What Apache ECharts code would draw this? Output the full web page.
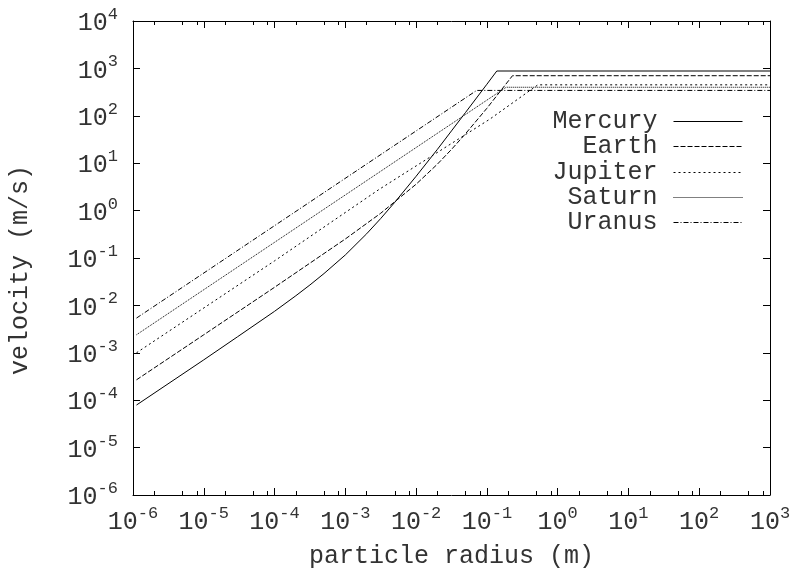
<!DOCTYPE html>
<html>
<head>
<meta charset="utf-8">
<script src="https://cdn.jsdelivr.net/npm/echarts@6/dist/echarts.min.js"></script>
<style>html,body{margin:0;padding:0;background:#fff}#c{width:796px;height:579px}</style>
</head>
<body>
<div id="c"></div>
<script>
// ---- data (radius in m, velocity in m/s) ----
const seriesNames = ['Mercury', 'Earth', 'Jupiter', 'Saturn', 'Uranus'];

const mercuryR = [1.12e-6, 1e-5, 3e-5, 1e-4, 2e-4, 3.16e-4, 5e-4, 1e-3, 2e-3, 3.16e-3, 5e-3, 1e-2, 2e-2, 3.16e-2, 5e-2, 0.1, 0.138, 1000];
const mercuryV = [7.9e-5, 7.1e-4, 2.18e-3, 7.5e-3, 0.016, 0.027, 0.047, 0.116, 0.324, 0.68, 1.5, 5.3, 19.6, 48, 118, 463, 881, 881];

const earthR = [1.12e-6, 1e-5, 1e-4, 1e-3, 3.16e-3, 1e-2, 2e-2, 3.16e-2, 5e-2, 0.1, 0.23, 1000];
const earthV = [2.69e-4, 2.4e-3, 0.0241, 0.252, 0.879, 3.6, 9.55, 19.5, 42, 144, 701, 701];

const jupiterR = [1.12e-6, 1e-4, 3e-3, 0.11, 0.525, 1000];
const jupiterV = [1.0e-3, 0.087, 2.8, 85, 450, 450];

const saturnR = [1.12e-6, 0.187, 1000];
const saturnV = [2.4e-3, 400, 400];

const uranusR = [1.12e-6, 0.0716, 1000];
const uranusV = [5.4e-3, 343, 343];

const xMajorTicks = [1e-6, 1e-5, 1e-4, 1e-3, 1e-2, 1e-1, 1e0, 1e1, 1e2, 1e3];
const xMinorMantissas = [2, 5, 8];
const yMajorTicks = [1e-6, 1e-5, 1e-4, 1e-3, 1e-2, 1e-1, 1e0, 1e1, 1e2, 1e3, 1e4];

const xTitle = 'particle radius (m)';
const yTitle = 'velocity (m/s)';

// ---- build ----
const FONT = 'Liberation Mono';
const TXT = '#333';
const pairs = (r, v) => r.map((x, i) => [x, v[i]]);
const seriesData = [pairs(mercuryR, mercuryV), pairs(earthR, earthV), pairs(jupiterR, jupiterV), pairs(saturnR, saturnV), pairs(uranusR, uranusV)];
const dashes = ['solid', [5, 2], [2, 3], [1, 1], [5, 2, 1, 2]];

const xMinorTicks = [];
for (let k = -6; k < 3; k++) xMinorMantissas.forEach(m => xMinorTicks.push(m * Math.pow(10, k)));

const rich = {
  b: { fontFamily: FONT, fontSize: 25, color: TXT, lineHeight: 30, verticalAlign: 'bottom' },
  s: { fontFamily: FONT, fontSize: 17, color: TXT, lineHeight: 15, verticalAlign: 'top' }
};
const powFmt = v => '{b|10}{s|' + Math.round(Math.log10(v)) + '}';

const lineCol = '#000';
function axisBase(extra) {
  return Object.assign({
    type: 'log', logBase: 10,
    splitLine: { show: false },
    axisLine: { show: true, lineStyle: { color: lineCol, width: 1 } },
    axisTick: { show: true, inside: true, length: 7, lineStyle: { color: lineCol } },
    axisLabel: { show: false }
  }, extra);
}

const xAxes = [
  axisBase({
    min: 1e-6, max: 1e3, position: 'bottom',
    axisTick: { show: true, inside: true, length: 7, customValues: xMajorTicks, lineStyle: { color: lineCol } },
    axisLabel: { show: true, customValues: xMajorTicks, margin: 10, formatter: powFmt, rich: rich },
    name: xTitle, nameLocation: 'middle', nameGap: 49,
    nameTextStyle: { fontFamily: FONT, fontSize: 25, color: TXT }
  }),
  axisBase({
    min: 1e-6, max: 1e3, position: 'bottom',
    axisLine: { show: false },
    axisTick: { show: true, inside: true, length: 4, customValues: xMinorTicks, lineStyle: { color: lineCol } }
  }),
  axisBase({
    min: 1e-6, max: 1e3, position: 'top',
    axisTick: { show: true, inside: true, length: 7, customValues: xMajorTicks, lineStyle: { color: lineCol } }
  }),
  axisBase({
    min: 1e-6, max: 1e3, position: 'top',
    axisLine: { show: false },
    axisTick: { show: true, inside: true, length: 4, customValues: xMinorTicks, lineStyle: { color: lineCol } }
  })
];
const yAxes = [
  axisBase({
    min: 1e-6, max: 1e4, position: 'left',
    axisTick: { show: true, inside: true, length: 7, customValues: yMajorTicks, lineStyle: { color: lineCol } },
    axisLabel: { show: true, customValues: yMajorTicks, margin: 15, formatter: powFmt, rich: rich },
    name: yTitle, nameLocation: 'middle', nameGap: 100, nameRotate: 90,
    nameTextStyle: { fontFamily: FONT, fontSize: 25, color: TXT, padding: [0, 24, 0, 0] }
  }),
  axisBase({
    min: 1e-6, max: 1e4, position: 'right',
    axisTick: { show: true, inside: true, length: 7, customValues: yMajorTicks, lineStyle: { color: lineCol } }
  })
];

const legendTops = [104, 129, 155, 180, 205];
const legends = seriesNames.map((n, i) => ({
  data: [n], orient: 'vertical', align: 'right', right: 48, top: legendTops[i],
  itemWidth: 69, itemHeight: 13, itemGap: 0,
  itemStyle: { opacity: 0, borderWidth: 0 },
  lineStyle: { width: 1, color: '#000' },
  textStyle: { fontFamily: FONT, fontSize: 25, color: TXT, lineHeight: 25, padding: [0, 11, 0, 0] }
}));

const chart = echarts.init(document.getElementById('c'), null, { renderer: 'canvas' });
chart.setOption({
  animation: false,
  backgroundColor: '#fff',
  grid: { left: 133, top: 21, right: 26, bottom: 84, containLabel: false },
  legend: legends,
  xAxis: xAxes,
  yAxis: yAxes,
  series: seriesNames.map((n, i) => ({
    name: n, type: 'line', xAxisIndex: 0, yAxisIndex: 0,
    data: seriesData[i], symbol: 'none', showSymbol: false, smooth: false,
    lineStyle: { color: '#000', width: 1, type: dashes[i] },
    itemStyle: { color: '#000' },
    emphasis: { disabled: true }
  }))
});
</script>
</body>
</html>
